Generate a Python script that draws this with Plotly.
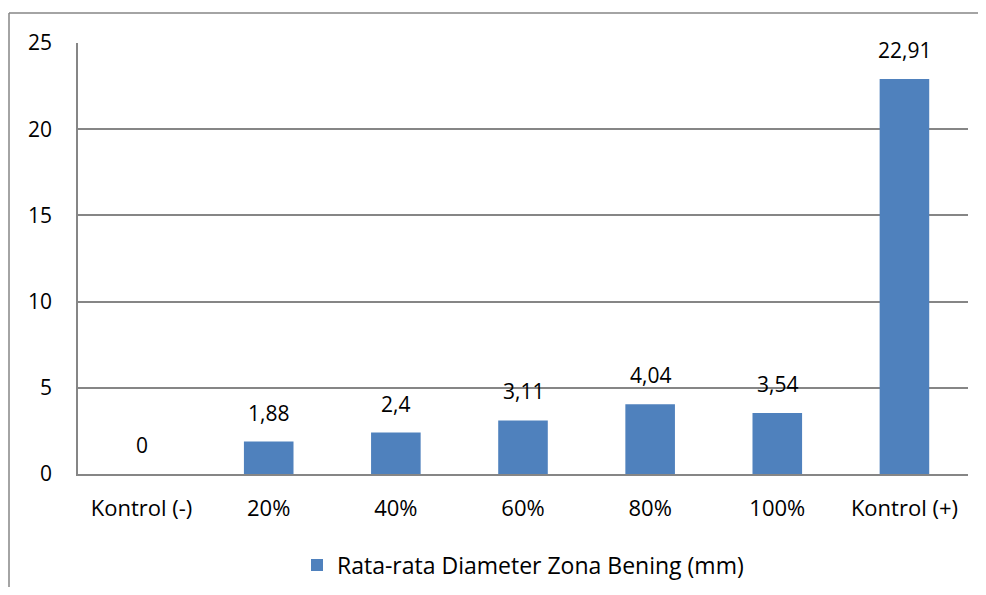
import plotly.graph_objects as go

categories = ["Kontrol (-)", "20%", "40%", "60%", "80%", "100%", "Kontrol (+)"]
values = [0, 1.88, 2.4, 3.11, 4.04, 3.54, 22.91]
series_name = "Rata-rata Diameter Zona Bening (mm)"
y_ticks = [0, 5, 10, 15, 20, 25]

FONT = "Open Sans"
GRAY = "#868686"
BLUE = "#4F81BD"

fig = go.Figure()
fig.add_trace(go.Bar(
    x=categories, y=values, name=series_name,
    marker=dict(color=BLUE, line=dict(width=0)),
    showlegend=True,
))

for c, v in zip(categories, values):
    fig.add_annotation(
        x=c, y=v, text=f"{v:g}".replace(".", ","),
        showarrow=False, yanchor="bottom", yshift=13,
        font=dict(family=FONT, size=21, color="#000000"),
    )

# page body has an 8px margin
W, H = 970, 579
L, R, T, B = 70, 10, 35, 113
pw, ph = W - L - R, H - T - B
fx = (1 - L) / pw
fy = 1 + (T - 5) / ph
fig.add_shape(type="line", xref="paper", yref="paper",
              x0=fx, x1=fx, y0=-B / ph - 0.05, y1=fy,
              line=dict(color=GRAY, width=1.5))
fig.add_shape(type="line", xref="paper", yref="paper",
              x0=fx, x1=1 + R / pw + 0.05, y0=fy, y1=fy,
              line=dict(color=GRAY, width=1.5))

fig.update_layout(
    width=W, height=H,
    margin=dict(l=L, r=R, t=T, b=B, autoexpand=False),
    paper_bgcolor="white", plot_bgcolor="white",
    separators=",.",
    bargap=0.61,
    font=dict(family=FONT, size=21, color="#000000"),
    legend=dict(orientation="h", x=0.5, xanchor="center", y=-(565 - 474) / ph,
                yanchor="middle", font=dict(family=FONT, size=23),
                itemwidth=30),
    xaxis=dict(showgrid=False, showline=True, linecolor=GRAY, linewidth=1.5,
               ticks="", ticklabelstandoff=14, tickfont=dict(size=22)),
    yaxis=dict(range=[0, 25], tickvals=y_ticks, showgrid=True, gridcolor=GRAY,
               gridwidth=1.5, showline=True, linecolor=GRAY, linewidth=1.5,
               zeroline=False, ticks="", ticklabelstandoff=20,
               tickfont=dict(size=21)),
)

fig.write_html("out.html")
